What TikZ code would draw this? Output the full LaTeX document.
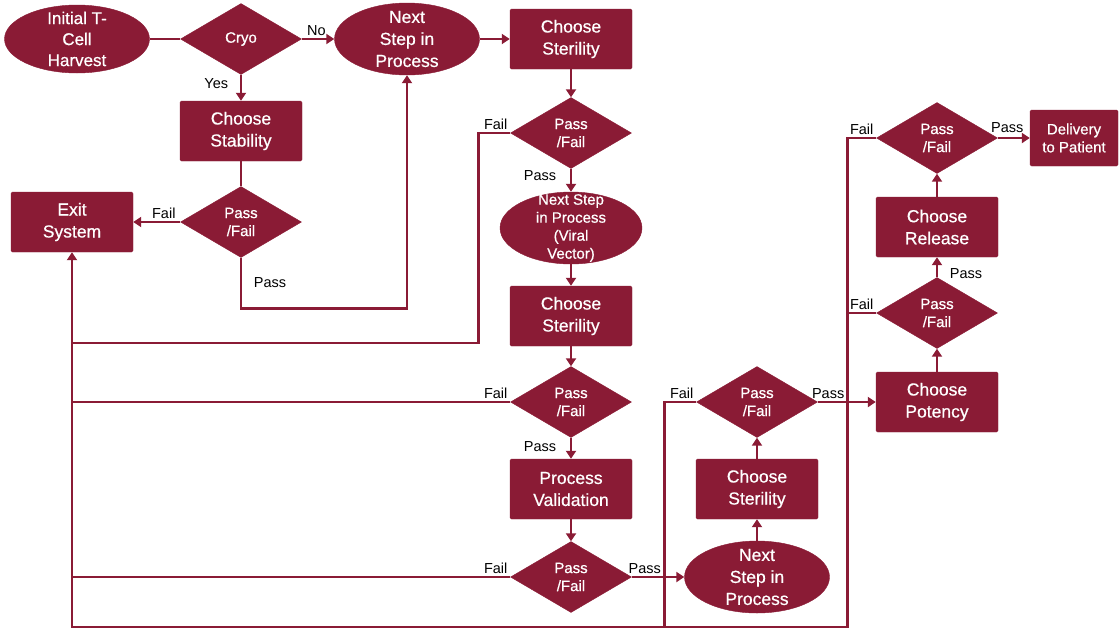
\documentclass[tikz,border=0pt]{standalone}
\usepackage{fontspec}
\setmainfont{Liberation Sans}
\newfontfamily\boxfont[FakeBold=0.6]{Liberation Sans}
\usetikzlibrary{shapes.geometric,arrows.meta}
\definecolor{maroon}{RGB}{138,27,53}
\begin{document}
\begin{tikzpicture}[x=1pt,y=-1pt,
		box/.style={draw=maroon,fill=maroon,text=white,rounded corners=1.5pt,minimum width=122pt,minimum height=60pt,inner sep=0pt,align=center,font=\boxfont\fontsize{17.5}{22}\selectfont},
		oval/.style={ellipse,draw=maroon,fill=maroon,text=white,minimum width=145pt,minimum height=72pt,inner sep=-12pt,align=center,font=\boxfont\fontsize{17.5}{22}\selectfont},
		check/.style={diamond,draw=maroon,fill=maroon,text=white,minimum width=121pt,minimum height=71pt,inner sep=0pt,align=center,font=\boxfont\fontsize{15}{18}\selectfont},
		flow/.style={maroon,line width=2.8pt},
		arr/.style={flow,-{Triangle[width=10pt,length=8pt]}},
		lbl/.style={text=black,font=\fontsize{14.5}{17}\selectfont,inner sep=1.5pt}]
		\useasboundingbox (0,0) rectangle (1120,630);
		%top row
		\node[oval,minimum height=68pt,font=\boxfont\fontsize{17}{21}\selectfont] (harvest) at (77,39) {Initial T-\\Cell\\Harvest};
		\node[check] (cryo) at (241,39) {Cryo};
		\node[oval] (ns1) at (407,39) {Next\\Step in\\Process};
		\node[box] (cs1) at (571,39) {Choose\\Sterility};
		%stability branch
		\node[box] (stab) at (241,131) {Choose\\Stability};
		\node[check] (pfstab) at (241,222) {Pass\\/Fail};
		\node[box] (exit) at (72,222) {Exit\\System};
		%centre column
		\node[check] (pf2) at (571,133) {Pass\\/Fail};
		\node[oval,minimum width=142pt,font=\boxfont\fontsize{15}{18}\selectfont] (nsv) at (571,228) {Next Step\\in Process\\(Viral\\Vector)};
		\node[box] (cs2) at (571,316) {Choose\\Sterility};
		\node[check] (pf3) at (571,402) {Pass\\/Fail};
		\node[box] (pv) at (571,489) {Process\\Validation};
		\node[check] (pf4) at (571,577) {Pass\\/Fail};
		%
		\node[oval] (ns3) at (757,577) {Next\\Step in\\Process};
		\node[box] (cs3) at (757,489) {Choose\\Sterility};
		\node[check] (pf5) at (757,402) {Pass\\/Fail};
		%right column
		\node[box] (pot) at (937,402) {Choose\\Potency};
		\node[check] (pf6) at (937,313) {Pass\\/Fail};
		\node[box] (rel) at (937,227) {Choose\\Release};
		\node[check] (pf7) at (937,138) {Pass\\/Fail};
		\node[box,minimum width=88pt,minimum height=56pt,font=\boxfont\fontsize{15}{18}\selectfont] (deliv) at (1074,138) {Delivery\\to Patient};
		%connectors
		\draw[flow] (harvest) -- (cryo);
		\draw[arr] (cryo) -- node[lbl,above,pos=0.45]{No} (ns1);
		\draw[arr] (ns1) -- (cs1);
		\draw[arr] (cryo) -- node[lbl,left,pos=0.35,xshift=-10pt]{Yes} (stab);
		\draw[flow] (stab) -- (pfstab);
		\draw[arr] (pfstab) -- node[lbl,above,pos=0.35]{Fail} (exit);
		\draw[arr] (pfstab.south) -- node[lbl,right,xshift=10pt]{Pass} ++(0,50.5) -| (ns1.south);
		%
		\draw[arr] (cs1) -- (pf2);
		\draw[arr] (pf2) -- node[lbl,left,pos=0.3,xshift=-12pt]{Pass} (nsv);
		\draw[arr] (nsv) -- (cs2);
		\draw[arr] (cs2) -- (pf3);
		\draw[arr] (pf3) -- node[lbl,left,pos=0.4,xshift=-12pt]{Pass} (pv);
		\draw[arr] (pv) -- (pf4);
		\draw[arr] (pf4) -- node[lbl,above,pos=0.25]{Pass} (ns3);
		%fail lines back to exit
		\draw[flow] (pf2.west) -- node[lbl,above left,pos=0]{Fail} ++(-32,0) |- (exit.south |- 0,343);
		\draw[flow] (pf3.west) -- node[lbl,above left,pos=0]{Fail} (exit.south |- pf3.west);
		\draw[flow] (pf4.west) -- node[lbl,above left,pos=0]{Fail} (exit.south |- pf4.west);
		\draw[flow] (pf5.west) -- node[lbl,above left,pos=0]{Fail} ++(-32,0) -- ++(0,225);
		\draw[flow] (pf6.west) -- node[lbl,above left,pos=0]{Fail} ++(-29,0);
		\draw[arr] (pf7.west) -- node[lbl,above left,pos=0]{Fail} ++(-29,0) |- (exit.south |- 0,627) -- (exit.south);
		%upwards
		\draw[arr] (ns3) -- (cs3);
		\draw[arr] (cs3) -- (pf5);
		\draw[arr] (pf5) -- node[lbl,above,pos=0.18]{Pass} (pot);
		\draw[arr] (pot) -- (pf6);
		\draw[arr] (pf6) -- node[lbl,right,pos=0.2,xshift=10pt]{Pass} (rel);
		\draw[arr] (rel) -- (pf7);
		\draw[arr] (pf7) -- node[lbl,above,pos=0.3,yshift=2pt]{Pass} (deliv);
	\end{tikzpicture}
\end{document}
